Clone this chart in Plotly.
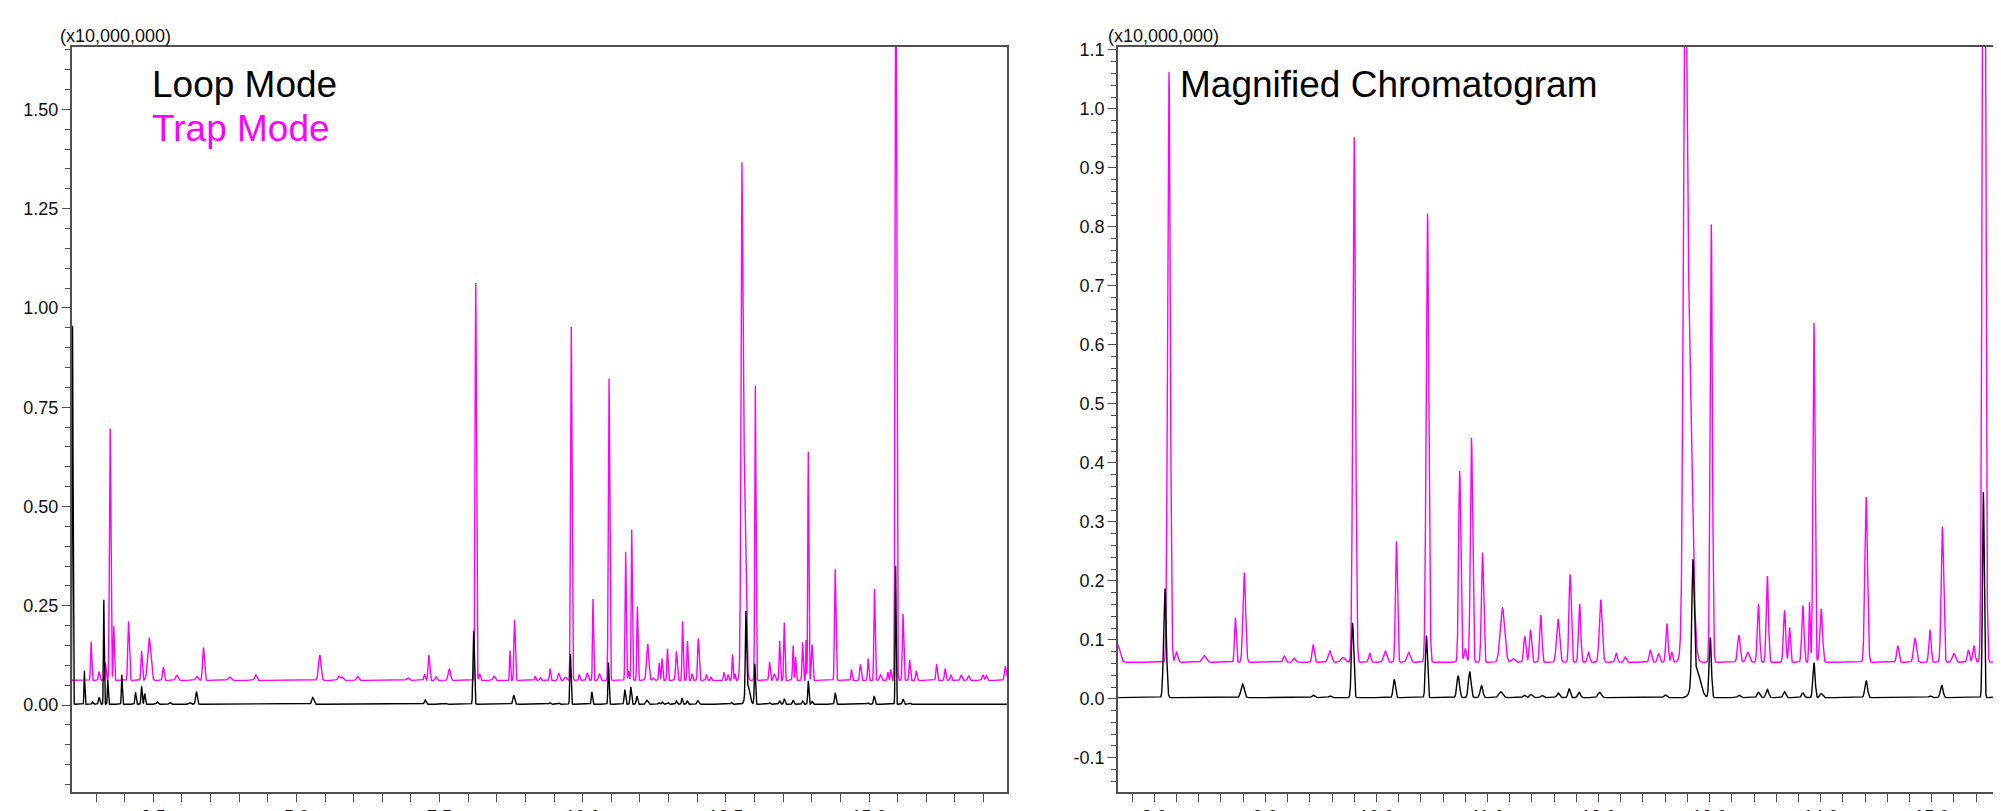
import numpy as np
import plotly.graph_objects as go

# ---------------- data (retention time in min, apex intensity in x10,000,000) ----------------
trap_rt = [1.414, 1.554, 1.665, 1.747, 1.81, 2.068, 2.296, 2.43, 2.675, 2.91, 3.26, 3.376, 3.83, 4.29,
           5.407, 5.74, 5.80, 6.07, 6.945, 7.237, 7.313, 7.44, 7.67, 8.132, 8.20, 8.45, 8.73, 8.81,
           9.17, 9.26, 9.43, 9.58, 9.70, 9.80, 9.94, 10.08, 10.18, 10.29, 10.46, 10.75, 10.80, 10.856,
           10.955, 11.135, 11.23, 11.336, 11.387, 11.48, 11.636, 11.744, 11.83, 11.91, 12.02, 12.16,
           12.24, 12.466, 12.54, 12.616, 12.66, 12.778, 12.81, 13.015, 13.264, 13.345, 13.44, 13.52,
           13.675, 13.72, 13.84, 13.9, 13.94, 14.005, 14.41, 14.694, 14.85, 14.985, 15.096, 15.2,
           15.33, 15.38, 15.47, 15.594, 15.71, 15.826, 16.18, 16.33, 16.43, 16.61, 16.74, 16.99,
           17.05, 17.38]
trap_apex = [0.160, 0.084, 0.107, 0.696, 0.199, 0.211, 0.136, 0.169, 0.095, 0.075, 0.072, 0.1445, 0.071, 0.076,
             0.126, 0.073, 0.070, 0.072, 0.069, 0.078, 0.126, 0.071, 0.0915, 1.0625, 0.079, 0.073, 0.1375, 0.214,
             0.0725, 0.069, 0.092, 0.081, 0.070, 0.952, 0.077, 0.081, 0.267, 0.079, 0.8225, 0.386, 0.085, 0.442,
             0.248, 0.154, 0.068, 0.106, 0.117, 0.142, 0.135, 0.211, 0.161, 0.079, 0.168, 0.077,
             0.071, 0.083, 0.077, 0.1275, 0.079, 1.012, 0.662, 0.804, 0.108, 0.079, 0.161, 0.208,
             0.150, 0.121, 0.158, 0.164, 0.6375, 0.1525, 0.342, 0.090, 0.1025, 0.117, 0.292, 0.077,
             0.083, 0.090, 2.0, 0.229, 0.113, 0.086, 0.103, 0.092, 0.076, 0.076, 0.074, 0.076,
             0.074, 0.098]
trap_sigma = [0.010, 0.012, 0.010, 0.012, 0.010, 0.013, 0.012, 0.028, 0.014, 0.020, 0.020, 0.016, 0.025, 0.018,
              0.022, 0.020, 0.020, 0.022, 0.020, 0.012, 0.014, 0.015, 0.020, 0.012, 0.012, 0.018, 0.008, 0.012,
              0.010, 0.012, 0.010, 0.015, 0.020, 0.012, 0.010, 0.015, 0.009, 0.015, 0.012, 0.010, 0.010, 0.010,
              0.010, 0.020, 0.015, 0.010, 0.010, 0.010, 0.014, 0.010, 0.010, 0.010, 0.013, 0.010,
              0.010, 0.010, 0.010, 0.010, 0.008, 0.014, 0.030, 0.010, 0.012, 0.015, 0.010, 0.010,
              0.010, 0.008, 0.010, 0.006, 0.009, 0.012, 0.012, 0.010, 0.013, 0.010, 0.011, 0.015,
              0.010, 0.010, 0.013, 0.012, 0.012, 0.012, 0.012, 0.012, 0.012, 0.015, 0.015, 0.015,
              0.015, 0.015]
trap_baseline = 0.062

loop_rt = [1.09, 1.297, 1.44, 1.554, 1.636, 1.706, 1.951, 2.19, 2.296, 2.35, 2.57, 2.79, 3.14, 3.253,
           5.285, 7.249, 7.617, 8.096, 8.795, 9.43, 9.58, 9.785, 10.16, 10.45, 10.736, 10.84, 10.946,
           11.12, 11.33, 11.39, 11.49, 11.636, 11.735, 11.825, 12.01, 12.6, 12.85, 12.88, 13.006,
           13.264, 13.44, 13.52, 13.675, 13.84, 13.94, 14.005, 14.41, 14.985, 15.09, 15.465, 15.594, 15.71]
loop_apex = [0.955, 0.086, 0.008, 0.019, 0.265, 0.063, 0.076, 0.032, 0.048, 0.029, 0.008, 0.007, 0.006, 0.034,
             0.019, 0.0126, 0.004, 0.187, 0.025, 0.006, 0.005, 0.129, 0.033, 0.107, 0.039, 0.046, 0.0225,
             0.012, 0.006, 0.0075, 0.006, 0.010, 0.017, 0.011, 0.011, 0.0067, 0.202, 0.052, 0.104,
             0.006, 0.011, 0.016, 0.012, 0.010, 0.061, 0.009, 0.031, 0.005, 0.023, 0.350, 0.015, 0.005]
loop_sigma = [0.008, 0.007, 0.010, 0.012, 0.007, 0.008, 0.008, 0.010, 0.010, 0.010, 0.015, 0.015, 0.015, 0.014,
              0.018, 0.015, 0.015, 0.012, 0.015, 0.012, 0.012, 0.010, 0.010, 0.009, 0.012, 0.012, 0.012,
              0.018, 0.012, 0.012, 0.012, 0.012, 0.010, 0.012, 0.015, 0.012, 0.010, 0.035, 0.010,
              0.012, 0.012, 0.012, 0.012, 0.012, 0.010, 0.012, 0.012, 0.012, 0.012, 0.008, 0.012, 0.012]
loop_baseline = 0.002

left_y_tickvals = [0.0, 0.25, 0.5, 0.75, 1.0, 1.25, 1.5]
left_y_ticktext = ["0.00", "0.25", "0.50", "0.75", "1.00", "1.25", "1.50"]
right_y_tickvals = [-0.1, 0.0, 0.1, 0.2, 0.3, 0.4, 0.5, 0.6, 0.7, 0.8, 0.9, 1.0, 1.1]
right_y_ticktext = ["-0.1", "0.0", "0.1", "0.2", "0.3", "0.4", "0.5", "0.6", "0.7", "0.8", "0.9", "1.0", "1.1"]

# ---------------- build chromatograms from peak tables ----------------
t = np.arange(1.0, 17.5, 0.001)


def chromatogram(rts, apexes, sigmas, base):
    y = np.full_like(t, base)
    for r, a, s in zip(rts, apexes, sigmas):
        y += (a - base) * np.exp(-0.5 * ((t - r) / s) ** 2)
    return y


trap = chromatogram(trap_rt, trap_apex, trap_sigma, trap_baseline)
loop = chromatogram(loop_rt, loop_apex, loop_sigma, loop_baseline)

MAGENTA = "#FF00FF"
AXC = "#505050"
FONT = "Arial, Liberation Sans, sans-serif"

fig = go.Figure()
for xa, ya in (("x", "y"), ("x2", "y2")):
    fig.add_trace(go.Scatter(x=t, y=trap, mode="lines", line=dict(color=MAGENTA, width=1.4),
                             xaxis=xa, yaxis=ya, showlegend=False, hoverinfo="skip"))
    fig.add_trace(go.Scatter(x=t, y=loop, mode="lines", line=dict(color="black", width=1.4),
                             xaxis=xa, yaxis=ya, showlegend=False, hoverinfo="skip"))

# page has an 8px body margin: figure coordinates = page coordinates - 8
OFF = 8
W, H = 2001 - OFF, 811 - OFF


def px(xp):
    return (xp - OFF) / W


def py(yp):
    return (H - (yp - OFF)) / H


ydom = [py(792), py(47)]

common = dict(showgrid=False, zeroline=False, showline=True, linecolor=AXC, linewidth=1.5,
              ticks="outside", tickcolor=AXC, tickwidth=1.2, ticklen=8, automargin=False,
              tickfont=dict(family=FONT, size=18, color="#111111"))

fig.update_layout(
    width=W, height=H,
    margin=dict(l=0, r=0, t=0, b=0, autoexpand=False),
    paper_bgcolor="white", plot_bgcolor="white",
    font=dict(family=FONT),
    xaxis=dict(domain=[px(71.7), px(1007)], range=[1.075, 17.41], anchor="y",
               tickmode="linear", tick0=0, dtick=2.5, tickformat=".1f", mirror=True,
               minor=dict(tick0=0, dtick=0.5, ticks="outside", ticklen=8, tickcolor=AXC, tickwidth=1.2),
               **common),
    yaxis=dict(domain=ydom, range=[-0.219, 1.657], anchor="x",
               tickmode="array", tickvals=left_y_tickvals, ticktext=left_y_ticktext, mirror=True,
               minor=dict(tick0=0, dtick=0.05, ticks="outside", ticklen=5, tickcolor=AXC, tickwidth=1.2),
               **common),
    xaxis2=dict(domain=[px(1118), 1.0], range=[7.673, 15.624], anchor="y2",
                tickmode="linear", tick0=0, dtick=1, tickformat=".1f", mirror=True,
                minor=dict(tick0=0, dtick=0.2, ticks="outside", ticklen=8, tickcolor=AXC, tickwidth=1.2),
                **common),
    yaxis2=dict(domain=ydom, range=[-0.158, 1.105], anchor="x2",
                tickmode="array", tickvals=right_y_tickvals, ticktext=right_y_ticktext, mirror=False,
                minor=dict(tick0=0, dtick=0.02, ticks="outside", ticklen=5, tickcolor=AXC, tickwidth=1.2),
                **common),
)


def ann(text, x_page, yc_page, size, color):
    fig.add_annotation(text=text, xref="paper", yref="paper", x=px(x_page), y=py(yc_page),
                       xanchor="left", yanchor="middle", showarrow=False,
                       font=dict(family=FONT, size=size, color=color))


ann("(x10,000,000)", 58, 36, 18, "#111111")
ann("(x10,000,000)", 1106, 36, 18, "#111111")
ann("Loop Mode", 150, 84, 37, "black")
ann("Trap Mode", 150, 128, 37, MAGENTA)
ann("Magnified Chromatogram", 1178, 84, 37, "black")

fig.write_html("out.html")
